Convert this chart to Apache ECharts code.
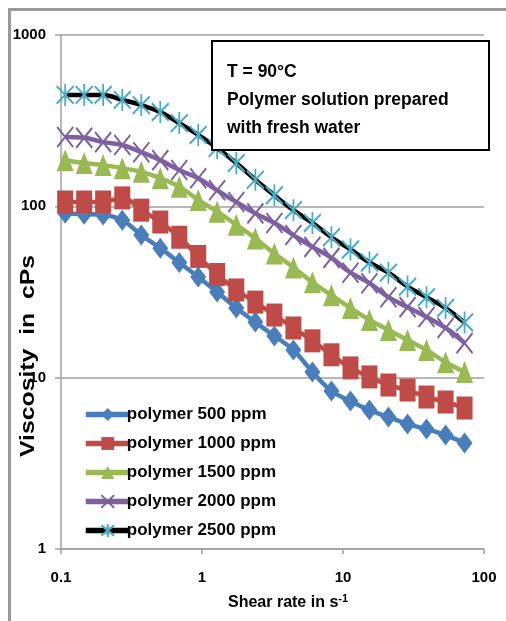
<!DOCTYPE html>
<html>
<head>
<meta charset="utf-8">
<script src="https://cdn.jsdelivr.net/npm/echarts@6/dist/echarts.min.js"></script>
<style>
  html, body { margin: 0; padding: 0; background: #fff; }
  #chart { width: 506px; height: 621px; }
</style>
</head>
<body>
<div id="chart"></div>
<script>
// shear rate (s-1), same for every series
var shearRate = [0.107, 0.146, 0.199, 0.272, 0.371, 0.506, 0.69, 0.94, 1.28, 1.75, 2.39,
                 3.26, 4.45, 6.07, 8.28, 11.3, 15.4, 21.0, 28.7, 39.1, 53.4, 72.8];

// viscosity in cPs
var p500  = [91, 90, 89, 83, 68, 57, 47, 38.7, 31.6, 25.5, 21.1, 17.5, 14.5, 10.8, 8.35, 7.3, 6.47, 5.89, 5.36, 5.01, 4.62, 4.15];
var p1000 = [106, 106, 106, 112, 95, 81, 66, 51, 40, 32.5, 27.6, 23.2, 19.5, 16.4, 13.6, 11.4, 10.1, 9.06, 8.47, 7.71, 7.21, 6.65];
var p1500 = [186, 179, 174, 167, 159, 146, 130, 109, 93, 78, 65, 53, 44, 36, 30.3, 25.5, 21.7, 19.0, 16.6, 14.5, 12.3, 10.8];
var p2000 = [254, 251, 237, 228, 207, 186, 163, 146, 124, 106, 91, 80, 68, 58, 50, 41, 35.6, 29.5, 25.8, 22.6, 19.5, 15.9];
var p2500 = [447, 447, 447, 418, 390, 355, 306, 261, 219, 179, 143, 116, 95, 80, 66, 56, 47, 41, 34, 29.5, 25.5, 21];

var seriesNames = ['polymer 500 ppm', 'polymer 1000 ppm', 'polymer 1500 ppm', 'polymer 2000 ppm', 'polymer 2500 ppm'];
var noteLines = ['T = 90°C', 'Polymer solution prepared', 'with fresh water'];

var FONT = "'Liberation Sans', Arial, sans-serif";

function pairs(ys) {
    var out = [];
    for (var i = 0; i < ys.length; i++) out.push([shearRate[i], ys[i]]);
    return out;
}

function mkSeries(name, ys, color, lineColor, symbol, size, stroke) {
    return {
        name: name,
        type: 'line',
        data: pairs(ys),
        smooth: 0.4,
        symbol: symbol,
        symbolSize: size,
        lineStyle: { color: lineColor, width: 4.5 },
        itemStyle: stroke ? { color: color, borderColor: color, borderWidth: 2 } : { color: color },
        emphasis: { disabled: true }
    };
}

var dom = document.getElementById('chart');
var myChart = echarts.init(dom, null, { renderer: 'canvas' });

var option = {
    animation: false,
    backgroundColor: '#fff',
    textStyle: { fontFamily: FONT },
    grid: { left: 61, right: 22, top: 35, bottom: 72 },
    xAxis: {
        type: 'log',
        logBase: 10,
        min: 0.1,
        max: 100,
        axisLine: { lineStyle: { color: '#a0a0a0', width: 1.5 } },
        axisTick: { show: true, length: 5, lineStyle: { color: '#a0a0a0', width: 1.5 } },
        splitLine: { show: false },
        axisLabel: {
            color: '#000', fontWeight: 'bold', fontSize: 15, fontFamily: FONT, margin: 21,
            formatter: function (v) { return String(v); }
        }
    },
    yAxis: {
        type: 'log',
        logBase: 10,
        min: 1,
        max: 1000,
        axisLine: { show: true, lineStyle: { color: '#a0a0a0', width: 1.5 } },
        axisTick: { show: true, length: 6, lineStyle: { color: '#a0a0a0', width: 1.5 } },
        splitLine: { show: true, lineStyle: { color: '#a0a0a0', width: 1.5 } },
        axisLabel: {
            color: '#000', fontWeight: 'bold', fontSize: 15, fontFamily: FONT, margin: 15,
            formatter: function (v) { return String(v); }
        }
    },
    legend: {
        orient: 'vertical',
        left: 78,
        top: 401,
        itemWidth: 44,
        itemHeight: 16,
        itemGap: 12,
        data: seriesNames,
        lineStyle: { width: 5.5 },
        textStyle: { color: '#000', fontWeight: 'bold', fontSize: 17, fontFamily: FONT, padding: [0, 0, 0, -8] }
    },
    series: [
        mkSeries(seriesNames[0], p500, '#4A7EBB', '#4A7EBB', 'diamond', [16, 21], false),
        mkSeries(seriesNames[1], p1000, '#BE4B48', '#BE4B48', 'rect', [16, 23], false),
        mkSeries(seriesNames[2], p1500, '#98B954', '#98B954', 'triangle', [17, 22], false),
        mkSeries(seriesNames[3], p2000, '#7D60A0', '#7D60A0', 'path://M0,0L10,10M10,0L0,10', [16, 20], true),
        mkSeries(seriesNames[4], p2500, '#4BACC6', '#000000', 'path://M5,0L5,10M0,1L10,9M10,1L0,9', [17, 22], true)
    ],
    graphic: [
        // outer frame
        { type: 'rect', shape: { x: 9.5, y: 9.5, width: 600, height: 700 },
          style: { fill: 'none', stroke: '#999', lineWidth: 3 }, silent: true },
        // note box
        { type: 'rect', z: 100, shape: { x: 212, y: 41, width: 277, height: 109 },
          style: { fill: '#fff', stroke: '#000', lineWidth: 2 }, silent: true },
        { type: 'text', z: 101, x: 227, y: 72,
          style: { text: noteLines[0], fill: '#000', font: 'bold 17.5px ' + FONT, verticalAlign: 'middle' } },
        { type: 'text', z: 101, x: 227, y: 100,
          style: { text: noteLines[1], fill: '#000', font: 'bold 17.5px ' + FONT, verticalAlign: 'middle' } },
        { type: 'text', z: 101, x: 227, y: 128,
          style: { text: noteLines[2], fill: '#000', font: 'bold 17.5px ' + FONT, verticalAlign: 'middle' } },
        // axis names
        { type: 'text', x: 228, y: 593,
          style: {
              text: '{a|Shear rate in s}{b|-1}',
              rich: {
                  a: { fontSize: 16, fontWeight: 'bold', fontFamily: FONT, fill: '#000', lineHeight: 20 },
                  b: { fontSize: 11, fontWeight: 'bold', fontFamily: FONT, fill: '#000', verticalAlign: 'top' }
              }
          } },
        { type: 'text', x: 18, y: 457, rotation: Math.PI / 2, scaleX: 1.18,
          style: { text: 'Viscosity  in  cPs', fill: '#000', font: 'bold 21px ' + FONT } }
    ]
};

if (option && typeof option === "object") {
    myChart.setOption(option, true);
}
</script>
</body>
</html>
